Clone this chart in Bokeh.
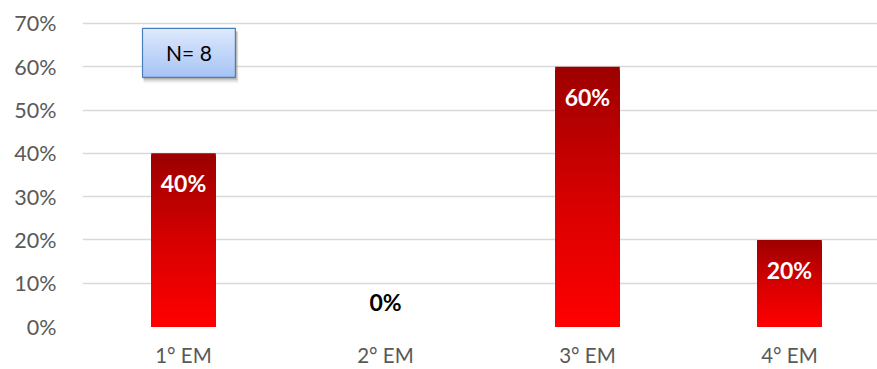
from bokeh.plotting import figure
from bokeh.models import Range1d, FixedTicker, NumeralTickFormatter, ColumnDataSource, Label
from bokeh.core.properties import value
from bokeh.embed import file_html
from bokeh.resources import INLINE

# Data
categories = ["1° EM", "2° EM", "3° EM", "4° EM"]
shares = [0.40, 0.00, 0.60, 0.20]
y_ticks = [0.0, 0.1, 0.2, 0.3, 0.4, 0.5, 0.6, 0.7]
sample_note = "N= 8"

FONT = "Lato"
AXIS_GREY = "#595959"
GRID_GREY = "#D9D9D9"

p = figure(
    width=877, height=369,
    output_backend="svg", toolbar_location=None,
    x_range=Range1d(0, 3.936), y_range=Range1d(0, 0.73),
    min_border_left=82, min_border_right=0, min_border_top=10, min_border_bottom=42,
)
p.outline_line_color = None
p.background_fill_color = "white"
p.border_fill_color = "white"

# positions of the categories on the x scale
xs = [i + 0.5 for i in range(len(categories))]
bar_w = 0.32

# red vertical gradient, dark at the top of each bar, bright at the bottom
stops = [(0.0, (156, 0, 0)), (0.5, (214, 0, 0)), (1.0, (255, 0, 0))]


def grad_color(t):
    for (t0, c0), (t1, c1) in zip(stops[:-1], stops[1:]):
        if t <= t1:
            f = (t - t0) / (t1 - t0)
            return "#%02x%02x%02x" % tuple(round(a + (b - a) * f) for a, b in zip(c0, c1))
    return "#%02x%02x%02x" % stops[-1][1]


# each bar is painted as nested layers growing shorter from the top,
# so every layer covers the seam of the one below it
n_slices = 90
left, right, bottom, top, colors = [], [], [], [], []
for x, v in zip(xs, shares):
    if v <= 0:
        continue
    for k in range(n_slices):
        left.append(x - bar_w / 2)
        right.append(x + bar_w / 2)
        bottom.append(0)
        top.append(v * (1 - k / n_slices))
        colors.append(grad_color((k + 0.5) / n_slices))

p.quad(left=left, right=right, bottom=bottom, top=top,
       fill_color=colors, line_color=None)

# value labels
lab = ColumnDataSource(dict(
    x=xs, y=shares,
    text=[f"{round(v * 100)}%" for v in shares],
    color=["white" if v > 0 else "black" for v in shares],
    yoff=[30 if v > 0 else -25 for v in shares],
))
p.text(x="x", y="y", text="text", source=lab, text_color="color", y_offset="yoff",
       text_align="center", text_baseline="middle",
       text_font=value(FONT), text_font_style="bold", text_font_size="23px")

# sample-size box with soft drop shadow and blue gradient
bx0, bx1, by0, by1 = 0.297, 0.757, 0.5757, 0.6885
px_x, px_y = 1 / 202, 1 / 434.3
for dx, dy, a in [(3, 6, 0.07), (2.5, 4.5, 0.12), (2, 3, 0.2), (1, 1.5, 0.3)]:
    p.quad(left=[bx0 + 1 * px_x], right=[bx1 + dx * px_x],
           bottom=[by0 - dy * px_y], top=[by1 - 3 * px_y],
           fill_color="#606060", fill_alpha=a, line_color=None)
box_n = 30
b_top = [by1 - (by1 - by0) * k / box_n for k in range(box_n)]
c0, c1 = (222, 233, 252), (166, 195, 245)
b_col = ["#%02x%02x%02x" % tuple(round(a + (b - a) * (k + 0.5) / box_n) for a, b in zip(c0, c1))
         for k in range(box_n)]
p.quad(left=[bx0] * box_n, right=[bx1] * box_n, bottom=[by0] * box_n, top=b_top,
       fill_color=b_col, line_color=None)
p.quad(left=[bx0], right=[bx1], bottom=[by0], top=[by1],
       fill_color=None, line_color="#4A7EBB", line_width=1.2)
p.add_layout(Label(x=(bx0 + bx1) / 2, y=(by0 + by1) / 2, text=sample_note,
                   text_align="center", text_baseline="middle",
                   text_font=FONT, text_font_size="21px", text_color="black"))

# axes
p.yaxis.ticker = FixedTicker(ticks=y_ticks)
p.yaxis.formatter = NumeralTickFormatter(format="0%")
p.xaxis.ticker = FixedTicker(ticks=xs)
p.xaxis.major_label_overrides = {x: c for x, c in zip(xs, categories)}
for ax in (p.xaxis, p.yaxis):
    ax.axis_line_color = None
    ax.major_tick_line_color = None
    ax.minor_tick_line_color = None
    ax.major_tick_out = 0
    ax.major_tick_in = 0
    ax.major_label_text_font = FONT
    ax.major_label_text_color = AXIS_GREY
p.yaxis.major_label_text_font_size = "21.5px"
p.xaxis.major_label_text_font_size = "20.5px"
p.yaxis.major_label_standoff = 26
p.xaxis.major_label_standoff = 16

p.xgrid.grid_line_color = None
p.ygrid.grid_line_color = GRID_GREY
p.ygrid.grid_line_width = 1.6

open("out.html", "w").write(file_html(p, INLINE))
